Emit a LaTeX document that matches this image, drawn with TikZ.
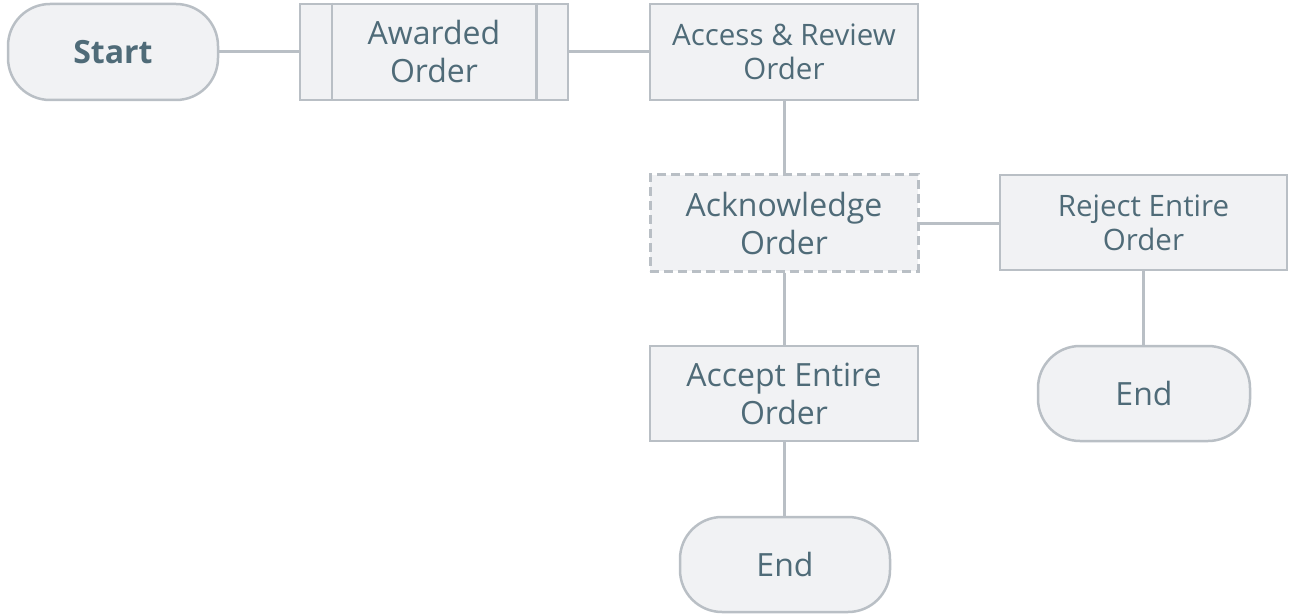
\documentclass[tikz,border=0pt]{standalone}
\usepackage{fontspec}
\setmainfont{Open Sans}
\definecolor{boxfill}{HTML}{F1F2F4}
\definecolor{boxline}{HTML}{B9BFC5}
\definecolor{txt}{HTML}{4F6B78}
\begin{document}
\begin{tikzpicture}[x=1pt,y=-1pt,
  box/.style={draw=boxline,fill=boxfill,line width=2.5pt,text=txt,align=center,inner sep=0pt},
  pill/.style={box,rounded corners=42pt},
  conn/.style={draw=boxline,line width=3pt},
  bigtxt/.style={font=\fontsize{32}{38}\selectfont},
  smtxt/.style={font=\fontsize{29.5}{34}\selectfont}]
\useasboundingbox (0,0) rectangle (1294,615);
% nodes
\node[pill,minimum width=210pt,minimum height=96pt,font=\bfseries\fontsize{32}{38}\selectfont] (start) at (113,52) {Start};
\node[box,bigtxt,minimum width=268pt,minimum height=96pt] (award) at (434,52) {Awarded\\Order};
\draw[boxline,line width=2.5pt] ([xshift=33pt]award.north west) -- ([xshift=33pt]award.south west);
\draw[boxline,line width=2.5pt] ([xshift=-33pt]award.north east) -- ([xshift=-33pt]award.south east);
\node[box,smtxt,minimum width=268pt,minimum height=96pt] (review) at (784,52) {Access \& Review\\Order};
\node[box,bigtxt,dashed,line width=3pt,dash pattern=on 9pt off 5pt,minimum width=268pt,minimum height=96pt] (ack) at (784,223) {Acknowledge\\Order};
\node[box,smtxt,minimum width=287pt,minimum height=95pt] (reject) at (1143.5,222.5) {Reject Entire\\Order};
\node[box,bigtxt,minimum width=268pt,minimum height=95pt] (accept) at (784,393.5) {Accept Entire\\Order};
\node[pill,bigtxt,minimum width=212pt,minimum height=95pt] (endr) at (1144,393.5) {End};
\node[pill,bigtxt,minimum width=210pt,minimum height=95pt] (endb) at (785,564.5) {End};
% connectors
\draw[conn] (start.east) -- (award.west);
\draw[conn] (award.east) -- (review.west);
\draw[conn] (review.south) -- (ack.north);
\draw[conn] (ack.east) -- (reject.west |- ack.east);
\draw[conn] (ack.south) -- (accept.north);
\draw[conn] (accept.south) -- (endb.north -| accept.south);
\draw[conn] (reject.south) -- (endr.north -| reject.south);
\end{tikzpicture}
\end{document}
